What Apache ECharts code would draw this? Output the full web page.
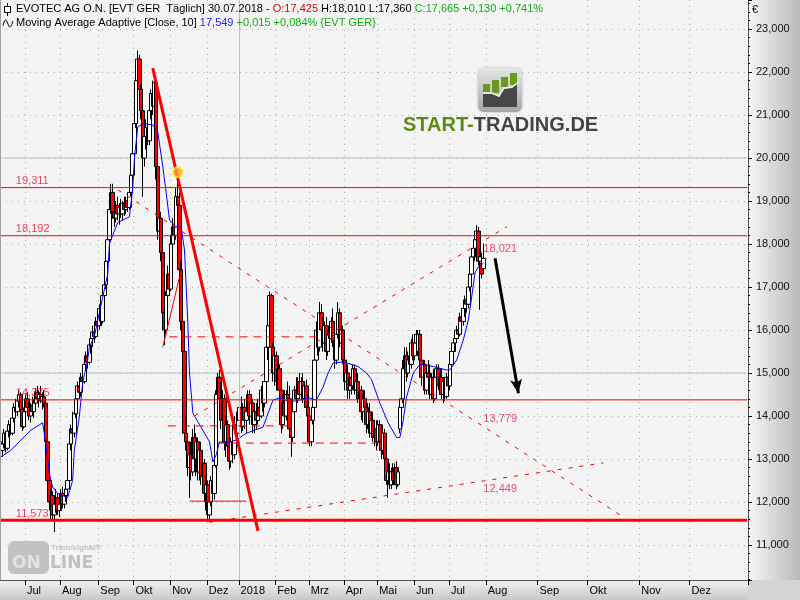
<!DOCTYPE html>
<html><head><meta charset="utf-8">
<script src="https://cdn.jsdelivr.net/npm/echarts@6/dist/echarts.min.js"></script>
<style>html,body{margin:0;padding:0;background:#d4d4d4}#c{width:800px;height:600px}</style>
</head><body><div id="c"></div>
<script>
// ---------- DATA ----------
const firstDay = '2017-06-12', lastTradingDay = '2018-07-31', lastFutureDay = '2019-01-04';
const holidays = ['2017-12-25','2017-12-26','2018-01-01','2018-03-30','2018-04-02','2018-05-01'];
const monthNames = ['Jan','Feb','Mrz','Apr','Mai','Jun','Jul','Aug','Sep','Okt','Nov','Dez'];
const yTicks = [11,12,13,14,15,16,17,18,19,20,21,22,23];
// [open, high, low, close], one per trading day from 2017-06-12
const ohlc = [
[13.40,13.55,13.10,13.20],[13.20,13.45,13.05,13.35],[13.35,13.70,13.25,13.60],[13.60,13.65,13.15,13.25],[13.25,13.75,13.20,13.65],
[13.65,13.90,13.50,13.80],[13.80,13.95,13.55,13.60],[13.60,14.00,13.55,13.95],[13.95,14.30,13.85,14.20],[14.20,14.40,14.00,14.10],
[14.10,14.45,14.00,14.35],[14.35,14.60,14.20,14.50],[14.50,14.55,14.05,14.15],[14.15,14.25,13.65,13.75],[13.75,14.20,13.70,14.10],
[14.10,14.50,14.00,14.40],[14.40,14.55,14.10,14.20],[14.20,14.35,13.90,14.00],[14.00,14.30,13.85,14.25],[14.25,14.45,14.05,14.10],
[14.10,14.40,13.95,14.30],[14.30,14.65,14.20,14.55],[14.55,14.70,14.30,14.40],[14.40,14.60,14.20,14.50],[14.50,14.70,14.30,14.35],
[14.35,14.55,14.15,14.45],[14.45,14.60,14.20,14.30],[14.30,14.40,13.30,13.40],[13.40,13.45,12.40,12.50],[12.50,12.60,11.80,12.00],
[12.00,12.30,11.60,12.15],[12.15,12.25,11.55,11.70],[11.70,12.10,11.30,11.95],[11.95,12.30,11.75,12.10],[12.10,12.20,11.70,11.80],
[11.80,12.05,11.65,11.95],[11.95,12.30,11.80,12.20],[12.20,12.35,11.85,11.95],[11.95,12.25,11.85,12.15],[12.15,12.40,12.00,12.30],
[12.30,12.60,12.15,12.50],[12.50,13.45,12.45,13.35],[13.35,13.80,13.20,13.70],[13.70,14.10,13.40,13.60],[13.60,14.15,13.50,14.05],
[14.05,14.50,13.95,14.40],[14.40,14.80,14.20,14.70],[14.70,14.90,14.40,14.55],[14.55,15.00,14.45,14.90],[14.90,15.10,14.70,14.80],
[14.80,15.30,14.75,15.20],[15.20,15.50,15.05,15.40],[15.40,15.60,15.10,15.25],[15.25,15.75,15.20,15.65],[15.65,15.90,15.45,15.80],
[15.80,16.10,15.60,15.95],[15.95,16.15,15.70,15.85],[15.85,16.30,15.80,16.20],[16.20,16.45,15.95,16.10],[16.10,16.60,16.00,16.50],
[16.50,16.80,16.10,16.20],[16.20,16.90,16.15,16.80],[16.80,17.20,16.60,17.05],[17.05,17.70,16.95,17.60],[17.60,18.20,17.50,18.10],
[18.10,18.90,18.00,18.80],[18.80,19.40,18.70,19.20],[19.20,19.40,18.60,18.75],[18.75,19.00,18.40,18.60],[18.60,19.00,18.50,18.90],
[18.90,19.10,18.55,18.70],[18.70,18.95,18.45,18.85],[18.85,19.05,18.60,18.70],[18.70,19.00,18.55,18.95],[18.95,19.10,18.65,18.80],
[18.80,19.10,18.70,19.00],[19.00,19.15,18.75,18.85],[18.85,19.30,18.80,19.20],[19.20,19.70,19.10,19.60],[19.60,20.20,19.40,20.10],
[20.10,20.90,19.95,20.80],[20.80,22.00,20.70,21.80],[21.80,22.50,21.60,22.30],[22.30,22.40,21.50,21.60],[21.60,21.70,20.90,21.10],
[21.10,21.20,19.10,20.00],[20.00,20.60,19.80,20.50],[20.50,20.90,20.20,20.70],[20.70,21.00,20.30,20.40],[20.40,21.20,20.30,21.10],
[21.10,21.60,20.90,21.50],[21.50,21.80,21.00,21.20],[21.20,21.90,21.10,21.75],[21.75,21.85,19.50,19.80],[19.80,20.00,18.10,18.30],
[18.30,18.80,18.00,18.60],[18.60,18.75,17.60,17.80],[17.80,17.90,16.20,16.40],[16.40,16.60,15.65,16.00],[16.00,16.90,15.90,16.80],
[16.80,17.50,16.60,17.30],[17.30,17.60,16.80,16.95],[16.95,18.20,16.90,18.00],[18.00,18.60,17.70,18.40],[18.40,19.00,18.00,18.20],
[18.20,19.30,18.10,19.10],[19.10,19.50,18.70,18.90],[18.90,19.20,17.20,17.40],[17.40,17.60,16.00,16.20],[16.20,16.40,15.30,15.50],
[15.50,15.60,13.40,13.60],[13.60,14.00,13.20,13.40],[13.40,13.60,12.60,12.80],[12.80,13.30,12.10,13.10],[13.10,13.40,12.50,12.70],
[12.70,13.70,12.60,13.50],[13.50,13.80,12.90,13.00],[13.00,13.60,12.60,13.40],[13.40,13.50,12.50,12.70],[12.70,13.40,12.50,13.20],
[13.20,13.40,12.40,12.60],[12.60,13.10,12.30,12.90],[12.90,13.00,12.00,12.20],[12.20,12.60,11.80,12.40],[12.40,12.50,11.55,11.70],
[11.70,12.20,11.53,12.00],[12.00,12.60,11.90,12.50],[12.50,12.80,12.10,12.20],[12.20,12.90,12.05,12.85],[12.85,14.60,12.80,14.50],
[14.50,15.00,14.10,14.90],[14.90,15.07,14.20,14.40],[14.40,14.80,13.70,13.90],[13.90,14.60,13.80,14.40],[14.40,14.50,13.20,13.40],
[13.40,14.00,13.05,13.80],[13.80,13.90,13.10,13.30],[13.30,13.70,12.75,12.95],[12.95,13.50,12.80,13.40],[13.40,13.60,12.90,13.10],
[13.10,14.00,13.00,13.80],[13.80,14.10,13.40,13.60],[13.60,14.00,13.45,13.90],[13.90,14.40,13.70,14.20],[14.20,14.45,13.60,13.75],
[13.75,14.30,13.65,14.20],[14.20,14.40,13.70,13.90],[13.90,14.30,13.60,14.10],[14.10,14.60,14.00,14.50],[14.50,14.60,13.80,14.00],
[14.00,14.50,13.90,14.30],[14.30,14.40,13.60,13.80],[13.80,14.20,13.60,14.10],[14.10,14.30,13.70,13.90],[13.90,14.40,13.80,14.20],
[14.20,14.50,13.90,14.00],[14.00,14.70,13.95,14.60],[14.60,14.80,14.10,14.30],[14.30,14.90,14.20,14.80],[14.80,15.80,14.70,15.60],
[15.60,16.20,15.30,16.10],[16.10,16.90,16.00,16.80],[16.80,16.85,15.40,15.60],[15.60,15.70,14.80,15.00],[15.00,15.60,14.70,15.40],
[15.40,15.50,14.60,14.80],[14.80,15.30,14.60,15.10],[15.10,15.20,14.40,14.60],[14.60,14.70,13.60,13.80],[13.80,14.50,13.70,14.30],
[14.30,14.60,13.80,14.00],[14.00,14.60,13.90,14.50],[14.50,14.80,14.20,14.40],[14.40,14.70,13.60,13.70],[13.70,13.90,13.05,13.50],
[13.50,14.20,13.40,14.10],[14.10,14.70,14.00,14.60],[14.60,14.90,14.30,14.40],[14.40,14.90,14.30,14.80],[14.80,15.00,14.40,14.50],
[14.50,14.90,14.40,14.80],[14.80,15.00,14.30,14.40],[14.40,14.80,14.20,14.70],[14.70,14.85,14.10,14.20],[14.20,14.50,13.90,14.00],
[14.00,14.10,13.30,13.40],[13.40,14.10,13.30,13.90],[13.90,14.30,13.80,14.20],[14.20,15.50,14.10,15.30],[15.30,16.20,15.20,16.00],
[16.00,16.40,15.40,15.60],[15.60,16.65,15.50,16.40],[16.40,16.60,15.80,16.00],[16.00,16.30,15.50,15.70],[15.70,16.20,15.60,16.10],
[16.10,16.30,15.30,15.50],[15.50,16.00,15.40,15.90],[15.90,16.20,15.60,15.80],[15.80,16.30,15.70,16.20],[16.20,16.50,15.60,15.75],
[15.75,16.10,15.10,15.30],[15.30,16.00,15.20,15.90],[15.90,16.65,15.80,16.40],[16.40,16.50,15.60,15.70],[15.70,16.20,15.50,16.00],
[16.00,16.10,15.20,15.30],[15.30,15.40,14.60,14.80],[14.80,15.20,14.60,15.00],[15.00,15.20,14.40,14.60],[14.60,15.00,14.40,14.90],
[14.90,15.10,14.50,14.70],[14.70,15.20,14.60,15.10],[15.10,15.20,14.50,14.60],[14.60,14.90,14.40,14.80],[14.80,15.00,14.30,14.40],
[14.40,14.70,14.20,14.60],[14.60,14.70,13.90,14.10],[14.10,14.50,13.85,14.40],[14.40,14.60,14.00,14.20],[14.20,14.40,13.60,13.80],
[13.80,14.30,13.70,14.10],[14.10,14.30,13.50,13.60],[13.60,14.00,13.50,13.90],[13.90,14.10,13.40,13.50],[13.50,13.80,13.30,13.70],
[13.70,13.90,13.20,13.40],[13.40,13.90,13.30,13.80],[13.80,13.90,13.30,13.40],[13.40,13.60,13.00,13.20],[13.20,13.80,13.10,13.60],
[13.60,13.70,12.90,13.00],[13.00,13.30,12.40,12.50],[12.50,12.90,12.10,12.70],[12.70,12.90,12.30,12.40],[12.40,12.80,12.30,12.70],
[12.70,12.90,12.40,12.50],[12.50,12.90,12.40,12.80],[12.80,12.95,12.30,12.40],[12.40,12.80,12.35,12.70],[13.70,14.30,13.60,14.20],
[14.20,14.50,13.80,14.40],[14.40,15.30,14.30,15.10],[15.10,15.60,14.90,15.40],[15.40,15.60,14.80,15.00],[15.00,15.50,14.90,15.30],
[15.30,15.60,15.00,15.20],[15.20,15.80,15.10,15.70],[15.70,15.90,15.30,15.40],[15.40,15.80,15.30,15.70],[15.70,16.00,15.50,15.90],
[15.50,16.00,15.40,15.90],[15.90,16.00,15.20,15.30],[15.30,15.40,14.70,14.90],[14.90,15.30,14.80,15.20],[15.20,15.30,14.50,14.60],
[14.60,15.10,14.50,15.00],[15.00,15.30,14.80,14.90],[14.90,15.20,14.40,14.50],[14.50,15.00,14.40,14.90],[14.90,15.10,14.30,14.40],
[14.40,15.00,14.35,14.90],[14.90,15.20,14.70,15.10],[15.10,15.20,14.60,14.70],[14.70,15.00,14.50,14.90],[14.90,15.10,14.40,14.50],
[14.50,14.90,14.30,14.80],[14.80,14.90,14.35,14.45],[14.45,15.00,14.40,14.90],[14.90,15.20,14.60,14.70],[14.70,15.30,14.60,15.20],
[15.20,15.60,15.10,15.50],[15.50,15.80,15.30,15.70],[15.70,15.90,15.50,15.80],[15.80,16.10,15.70,16.00],[16.00,16.20,15.80,15.90],
[15.90,16.40,15.85,16.30],[16.30,16.50,16.00,16.20],[16.20,16.60,16.10,16.50],[16.50,16.80,16.30,16.70],[16.70,17.00,16.40,16.60],
[16.60,17.10,16.50,17.00],[17.00,17.40,16.90,17.30],[17.30,17.80,17.10,17.70],[17.70,18.00,17.50,17.90],[17.90,18.20,17.60,18.10],
[18.10,18.44,17.90,18.30],[18.30,18.40,17.50,17.60],[17.60,17.90,16.47,17.70],[17.55,17.80,17.20,17.30],[17.425,18.010,17.360,17.665]
];
// Moving Average Adaptive (Close,10): [day index, value]
const maPoints = [[0,13.05],[6,13.2],[12,13.44],[18,13.67],[25,13.84],[26,13.6],[28,13.05],[29,12.67],[31,12.35],[34,12.2],[40,12.1],[43,12.5],
[44,13.2],[47,13.98],[49,14.77],[52,15.3],[53,15.6],[56,15.85],[59,16.4],[64,17.3],[65,18.0],[70,18.5],[77,18.63],[78,18.65],[79,19.3],[80,20.0],
[82,20.72],[85,20.8],[91,20.77],[94,20.6],[97,19.8],[99,19.2],[101,18.56],[105,18.4],[108,18.4],[110,17.86],[112,16.16],[113,15.0],[115,14.07],
[119,13.8],[125,13.4],[127,12.93],[129,13.1],[131,13.4],[135,13.37],[141,13.44],[147,13.6],[157,13.74],[163,14.37],[167,14.42],[173,14.33],
[179,14.37],[185,14.42],[189,14.37],[193,14.67],[196,15.0],[199,15.23],[205,15.26],[214,15.15],[219,15.0],[222,14.85],[227,14.3],[232,13.84],
[237,13.5],[239,13.5],[241,13.9],[243,14.44],[247,15.0],[251,15.2],[259,15.15],[267,15.07],[269,15.07],[273,15.3],[277,15.77],[280,16.23],
[282,16.77],[284,17.33],[286,17.47],[289,17.549]];
const levels = [19.311, 18.192, 14.375];
const mainLevel = 11.573;
const downTrend = [[91,22.09],[154,11.33]];
const fanDown = [[70,19.26],[372,11.67]];
const fanUp = [[116,14.0],[303,18.40]];
const supportUp = [[125,11.53],[361,12.91]];
const triangleSide = [[97,15.6],[107,17.23]];
const hDashed = [[101,191,15.84],[100,173,13.77],[130,227,13.37]]; // [fromIdx,toIdx,value]
const hSolid = [[113,147,12.02]];
const lineLabels = [[289,18.021],[289,13.779],[289,12.449]];
const arrowLine = [[296,17.67],[310,14.53]];
const marker = [[106,19.67]];

// ---------- build categories ----------
function ymd(d){return d.toISOString().slice(0,10);}
const dates = [];
for (let d = new Date(firstDay+'T00:00:00Z'); ymd(d) <= lastFutureDay; d.setUTCDate(d.getUTCDate()+1)) {
  const s = ymd(d), dow = d.getUTCDay();
  if (s <= lastTradingDay) { if (dow===0 || dow===6 || holidays.includes(s)) continue; }
  dates.push(s);
}
function isMonthStart(i){ return i>0 && i<dates.length-6 && dates[i].slice(0,7)!==dates[i-1].slice(0,7); }
const fmt = v => v.toFixed(3).replace('.', ',');
const candleData = ohlc.map(r => [r[0], r[3], r[2], r[1]]);
const lastIdx = dates.length - 1;

const RED = '#ff0000';
const series = [];
function seg(d, style, z){ series.push({type:'line', data:d, showSymbol:false, symbol:'none', z:z||5, lineStyle:style, itemStyle:{color:style.color}, silent:true}); }
// solid grey-green guide lines
seg([[0,15],[lastIdx,15]], {color:'#b3c6b0', width:1}, 1);
seg([[0,20],[lastIdx,20]], {color:'#b3c6b0', width:1}, 1);
series.push({type:'line', data:[], z:1, silent:true, markLine:{silent:true, symbol:'none', label:{show:false},
  lineStyle:{color:'#b3c6b0', width:1, type:'solid'}, data:[{xAxis:'2018-01-02'}]}});
series.push({type:'candlestick', name:'EVT', data:candleData, barWidth:4, z:3,
  itemStyle:{color:'#ffffff', color0:RED, borderColor:'#000000', borderColor0:'#000000', borderWidth:1},
  emphasis:{disabled:true}});
series.push({type:'line', name:'MA', data:maPoints, showSymbol:false, symbol:'none', z:4,
  lineStyle:{color:'#0000ff', width:1}});
// level lines
levels.forEach(v => seg([[0,v],[lastIdx,v]], {color:RED, width:1}));
seg([[0,mainLevel],[lastIdx,mainLevel]], {color:RED, width:3});
seg(downTrend, {color:RED, width:3});
seg(fanDown, {color:RED, width:1, type:[4,7]});
seg(fanUp, {color:RED, width:1, type:[4,7]});
seg(supportUp, {color:RED, width:1, type:[4,7]});
seg(triangleSide, {color:RED, width:1});
hDashed.forEach(h => seg([[h[0],h[2]],[h[1],h[2]]], {color:RED, width:1, type:[8,6]}));
hSolid.forEach(h => seg([[h[0],h[2]],[h[1],h[2]]], {color:RED, width:1}));
// arrow
series.push({type:'line', data:[], z:6, markLine:{silent:true, symbol:['none','arrow'], symbolSize:[9,14], label:{show:false},
  lineStyle:{color:'#000', width:3, type:'solid'},
  data:[[{coord:arrowLine[0]},{coord:arrowLine[1]}]]}});
// level labels (left)
series.push({type:'scatter', data:levels.concat([mainLevel]).map(v=>[9,v]), symbolSize:0, z:7, silent:true,
  label:{show:true, position:'top', distance:1, align:'left', formatter:p=>fmt(p.value[1]), color:'#f0102c', fontSize:11, fontFamily:'Liberation Sans'}});
// current-date trend line labels
series.push({type:'scatter', data:lineLabels.map((p,i)=>({value:p, label:{offset:[0,[6,-7,6][i]]}})), symbolSize:0, z:7, silent:true,
  label:{show:true, position:'right', distance:0, formatter:p=>fmt(p.value[1]), color:'#e8204a', fontSize:11, fontFamily:'Liberation Sans'}});
// yellow marker
series.push({type:'scatter', data:marker, symbol:'circle', symbolSize:10, z:8, silent:true,
  itemStyle:{color:'#f0a830', borderColor:'#ffee22', borderWidth:2}});

const G = echarts.graphic;
const option = {
  animation:false,
  backgroundColor:'#d4d4d4',
  grid:{left:0, right:52, top:0, bottom:20, show:true, backgroundColor:'#f4f4f4', borderWidth:0},
  xAxis:{type:'category', data:dates, boundaryGap:true,
    axisLine:{show:true, lineStyle:{color:'#505050', width:1}},
    axisTick:{show:true, interval:(i)=>isMonthStart(i), length:5, lineStyle:{color:'#000'}},
    axisLabel:{show:true, interval:(i)=>isMonthStart(i), align:'left', margin:5, fontSize:11, color:'#000', fontFamily:'Liberation Sans', padding:[0,0,0,1],
      formatter:(v)=>{const m=+v.slice(5,7)-1; return m===0 ? v.slice(0,4) : monthNames[m];}},
    splitLine:{show:true, interval:(i)=>isMonthStart(i), lineStyle:{color:'#a5b8a5', width:1, type:[1,5]}}},
  yAxis:{type:'value', position:'right', min:10.186, max:23.674, splitNumber:13, scale:true,
    axisLine:{show:true, lineStyle:{color:'#505050', width:1}},
    axisTick:{show:true, length:4, lineStyle:{color:'#000'}},
    minorTick:{show:true, splitNumber:5, length:2, lineStyle:{color:'#000'}},
    axisLabel:{show:true, margin:8, fontSize:11, color:'#111', fontFamily:'Liberation Sans', showMinLabel:false, showMaxLabel:false,
      formatter:(v)=> yTicks.includes(Math.round(v*1000)/1000) ? fmt(v) : ''},
    splitLine:{show:true, showMinLine:false, showMaxLine:false, lineStyle:{color:'#a5b8a5', width:1, type:[1,5]}}},
  series: series,
  graphic:{elements:[
    {type:'rect', z:-5, shape:{x:748,y:0,width:52,height:580}, style:{fill:new G.LinearGradient(0,0,1,0,[{offset:0,color:'#f6f6f6'},{offset:1,color:'#bababa'}])}},
    {type:'rect', z:-5, shape:{x:0,y:580,width:748,height:20}, style:{fill:new G.LinearGradient(0,0,0,1,[{offset:0,color:'#f2f2f2'},{offset:1,color:'#c8c8c8'}])}},
    {type:'rect', z:-5, shape:{x:748,y:580,width:52,height:20}, style:{fill:'#d4d4d4'}},
    {type:'line', z:10, shape:{x1:0.5,y1:0,x2:0.5,y2:580}, style:{stroke:'#a0a0a0', lineWidth:1}},
    {type:'text', z:10, style:{x:752, y:4, text:'€', fill:'#000', font:'11px "Liberation Sans"'}},
    // header icons
    {type:'line', z:20, shape:{x1:7.5,y1:3,x2:7.5,y2:16}, style:{stroke:'#000', lineWidth:1}},
    {type:'rect', z:21, shape:{x:4.5,y:6.5,width:6,height:6}, style:{fill:'#fff', stroke:'#000', lineWidth:1}},
    {type:'polyline', z:20, shape:{points:[[3,26],[4.5,21],[6,20],[8,24],[9.5,27],[11,26],[13,21]], smooth:0.4}, style:{stroke:'#000', lineWidth:1, fill:null}},
    // header texts
    {type:'text', z:20, style:{x:16, y:3, font:'11px "Liberation Sans"', fill:'#000',
      text:'{a|EVOTEC AG O.N. [EVT GER  Täglich] 30.07.2018 - }{r|O:17,425}{a| H:18,010 L:17,360 }{g|C:17,665 +0,130 +0,741%}',
      rich:{a:{fill:'#000', font:'11px "Liberation Sans"'}, r:{fill:'#e00000', font:'11px "Liberation Sans"'}, g:{fill:'#10b010', font:'11px "Liberation Sans"'}}}},
    {type:'text', z:20, style:{x:16, y:17, font:'11px "Liberation Sans"', fill:'#10b010',
      text:'{a|Moving Average Adaptive [Close, 10] }{b|17,549} +0,015 +0,084% {EVT GER}',
      rich:{a:{fill:'#000', font:'11px "Liberation Sans"'}, b:{fill:'#2020ff', font:'11px "Liberation Sans"'}}}},
    // START-TRADING.DE logo
    {type:'rect', z:9, shape:{x:478,y:68,width:44,height:44,r:6}, style:{fill:new G.LinearGradient(0,0,0,1,[{offset:0,color:'#e6e6e6'},{offset:1,color:'#a6a6a6'}]), shadowBlur:3, shadowColor:'rgba(0,0,0,0.25)'}},
    {type:'rect', z:10, shape:{x:483,y:84,width:7,height:8}, style:{fill:'#6a9a1c'}},
    {type:'rect', z:10, shape:{x:492,y:80,width:7,height:13}, style:{fill:'#6a9a1c'}},
    {type:'rect', z:10, shape:{x:501,y:77,width:7,height:10}, style:{fill:'#6a9a1c'}},
    {type:'rect', z:10, shape:{x:510,y:73,width:7,height:12}, style:{fill:'#6a9a1c'}},
    {type:'polygon', z:10, shape:{points:[[483,94],[492,94],[499,97],[504,89],[512,88],[517,84],[517,107],[483,107]]}, style:{fill:'#474747'}},
    {type:'polyline', z:11, shape:{points:[[483,93],[492,93],[499,96],[504,88],[512,87],[519,82]]}, style:{stroke:'#f0f0f0', lineWidth:1.5, fill:null}},
    {type:'text', z:10, style:{x:403, y:115, text:'{g|START-}{d|TRADING.DE}',
      rich:{g:{fill:'#5c8a14', font:'bold 20px "Liberation Sans"'}, d:{fill:'#444444', font:'bold 20px "Liberation Sans"'}}}},
    // Tradesignal online watermark
    {type:'rect', z:1, shape:{x:8,y:541,width:41,height:33,r:6}, style:{fill:'#c2c2c2'}},
    {type:'text', z:1, style:{x:12, y:555, text:'ON', fill:'#e2e2e2', font:'bold 17px "DejaVu Sans"'}},
    {type:'text', z:1, style:{x:50, y:555, text:'LINE', fill:'#c0c0c0', font:'bold 17px "DejaVu Sans"'}},
    {type:'text', z:1, style:{x:51, y:544, text:'Tradesignal®', fill:'#c4c4c4', font:'bold 8px "Liberation Sans"'}}
  ]}
};
const chart = echarts.init(document.getElementById('c'));
chart.setOption(option);
</script></body></html>
